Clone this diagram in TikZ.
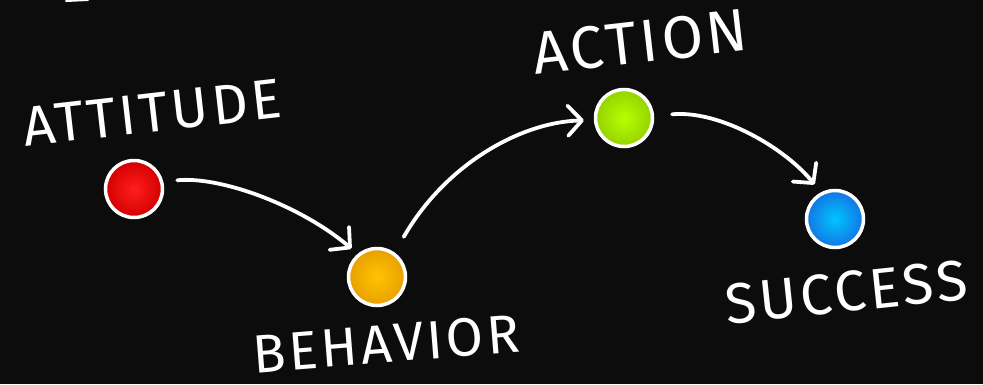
\documentclass[tikz,border=0pt]{standalone}
\usepackage{fontspec}
\setmainfont{Fira Sans}
\newfontfamily\chalkfont[LetterSpace=6]{Fira Sans}
\usetikzlibrary{arrows.meta}
\definecolor{bgc}{HTML}{0C0C0C}
\definecolor{redin}{HTML}{FF1E1E}
\definecolor{redout}{HTML}{D40000}
\definecolor{orin}{HTML}{FFC400}
\definecolor{orout}{HTML}{E8A000}
\definecolor{grin}{HTML}{B8FF00}
\definecolor{grout}{HTML}{94D200}
\definecolor{blin}{HTML}{00C4FF}
\definecolor{blout}{HTML}{1276E4}
\tikzset{
  ball/.style={circle, draw=white, line width=3.5pt, minimum size=57pt, inner sep=0pt, shade, shading=radial},
  chalkarrow/.style={draw=white, line width=3.8pt, line cap=round,
    -{Straight Barb[length=14pt,width=30pt,round]}},
  chalk/.style={text=white, inner sep=0pt, font=\chalkfont\fontsize{56}{62}\selectfont}
}
\begin{document}
\begin{tikzpicture}[x=1pt,y=-1pt]
\fill[bgc] (0,0) rectangle (983,384);
\useasboundingbox (0,0) rectangle (983,384);
\draw[white, line width=2pt, line cap=round] (66,1) -- (88,0);
\node[ball, inner color=redin, outer color=redout] (red) at (134,189) {};
\node[ball, inner color=orin, outer color=orout] (orange) at (377,277) {};
\node[ball, inner color=grin, outer color=grout] (green) at (624,118) {};
\node[ball, inner color=blin, outer color=blout] (blue) at (835,219) {};
\node[chalk, rotate=6.5] (attitude) at (152,113) {ATTITUDE};
\node[chalk, rotate=4.5, font=\chalkfont\fontsize{54}{60}\selectfont] (behavior) at (386,344) {BEHAVIOR};
\node[chalk, rotate=6.5, font=\chalkfont\fontsize{60}{66}\selectfont] (action) at (640,42) {ACTION};
\node[chalk, rotate=6, font=\chalkfont\fontsize{57}{64}\selectfont] (success) at (846,292) {SUCCESS};
\draw[chalkarrow, shorten <=14pt, shorten >=8pt] (red.14) .. controls (220,176) and (300,205) .. (orange.130);
\draw[chalkarrow, shorten <=18pt, shorten >=10pt] (orange.54) .. controls (445,165) and (520,122) .. (green.184);
\draw[chalkarrow, shorten <=18pt, shorten >=10pt] (green.4) .. controls (720,110) and (785,148) .. (blue.118);
\end{tikzpicture}
\end{document}
